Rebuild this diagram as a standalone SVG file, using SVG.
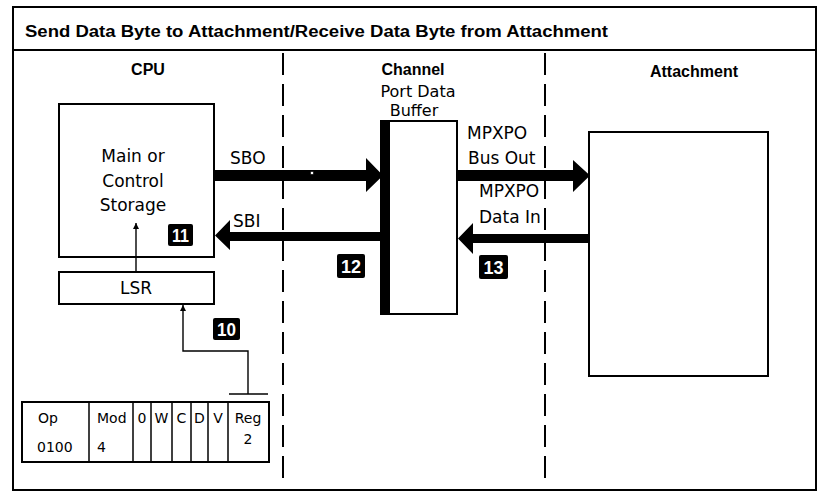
<svg xmlns="http://www.w3.org/2000/svg" width="824" height="495" viewBox="0 0 824 495">
<style>
.box{fill:#fff;stroke:#000;stroke-width:2}
.thin{fill:none;stroke:#000;stroke-width:1.4}
.dash{fill:none;stroke:#000;stroke-width:2;stroke-dasharray:22 9}
.hdr{font-family:"Liberation Sans",Arial,sans-serif;font-weight:bold;font-size:16px;fill:#000}
.lbl{font-family:"DejaVu Sans","Liberation Sans",sans-serif;font-size:17px;fill:#000}
.pb{font-family:"DejaVu Sans","Liberation Sans",sans-serif;font-size:16px;fill:#000}
.sm{font-family:"DejaVu Sans","Liberation Sans",sans-serif;font-size:14px;fill:#000}
.badge{fill:#000}
.btxt{font-family:"Liberation Sans",Arial,sans-serif;font-weight:bold;font-size:19px;fill:#fff;text-anchor:middle}
.mid{text-anchor:middle}
</style>
<defs>
<marker id="ah" viewBox="0 0 10 10" refX="10" refY="5" markerWidth="6" markerHeight="7" markerUnits="userSpaceOnUse" orient="auto">
<path d="M0,0 L10,5 L0,10 z" fill="#000"/>
</marker>
</defs>
<rect width="824" height="495" fill="#fff"/>

<g id="frame">
<rect x="13" y="7" width="803" height="483" fill="none" stroke="#000" stroke-width="2"/>
<line x1="13" y1="50" x2="816" y2="50" stroke="#000" stroke-width="2"/>
<text class="hdr" x="25" y="37" textLength="583" lengthAdjust="spacingAndGlyphs">Send Data Byte to Attachment/Receive Data Byte from Attachment</text>
<line class="dash" x1="283" y1="53" x2="283" y2="487"/>
<line class="dash" x1="545" y1="53" x2="545" y2="487"/>
<text class="hdr mid" x="148" y="75">CPU</text>
<text class="hdr mid" x="413" y="75">Channel</text>
<text class="hdr mid" x="694" y="77">Attachment</text>
</g>

<g id="storage">
<rect class="box" x="59" y="104" width="155" height="153"/>
<text class="lbl mid" x="133" y="162">Main or</text>
<text class="lbl mid" x="133" y="187">Control</text>
<text class="lbl mid" x="133" y="211">Storage</text>
</g>

<g id="lsr">
<rect class="box" x="59" y="272" width="155" height="32"/>
<text class="lbl mid" x="136" y="294">LSR</text>
</g>

<g id="buffer">
<text class="pb mid" x="418" y="97">Port Data</text>
<text class="pb mid" x="414" y="116">Buffer</text>
<rect class="box" x="389" y="121" width="68" height="193"/>
<rect x="380" y="120" width="10" height="195" fill="#000"/>
</g>

<g id="attachment">
<rect class="box" x="589" y="132" width="179" height="244" stroke-width="2.5"/>
</g>

<g id="register">
<rect class="box" x="22" y="402" width="247" height="60"/>
<g stroke="#000" stroke-width="1.5">
<line x1="89" y1="402" x2="89" y2="462"/>
<line x1="133" y1="402" x2="133" y2="462"/>
<line x1="151" y1="402" x2="151" y2="462"/>
<line x1="172" y1="402" x2="172" y2="462"/>
<line x1="191" y1="402" x2="191" y2="462"/>
<line x1="208" y1="402" x2="208" y2="462"/>
<line x1="228" y1="402" x2="228" y2="462"/>
</g>
<text class="sm" x="38" y="423">Op</text>
<text class="sm" x="37" y="452">0100</text>
<text class="sm" x="97" y="423">Mod</text>
<text class="sm" x="97" y="452">4</text>
<text class="sm mid" x="142" y="423">0</text>
<text class="sm mid" x="161.5" y="423">W</text>
<text class="sm mid" x="181.5" y="423">C</text>
<text class="sm mid" x="199.5" y="423">D</text>
<text class="sm mid" x="218" y="423">V</text>
<text class="sm mid" x="248" y="423">Reg</text>
<text class="sm mid" x="248" y="444">2</text>
</g>

<g id="labels">
<text class="lbl" x="230" y="164">SBO</text>
<text class="lbl" x="233" y="227">SBI</text>
<text class="lbl" x="467" y="139">MPXPO</text>
<text class="lbl" x="468" y="164">Bus Out</text>
<text class="lbl" x="479" y="197">MPXPO</text>
<text class="lbl" x="479" y="223">Data In</text>
</g>

<g id="badges">
<rect class="badge" x="168" y="224" width="25" height="22" rx="2"/>
<text class="btxt" x="180.5" y="242" textLength="17" lengthAdjust="spacingAndGlyphs">11</text>
<rect class="badge" x="337" y="254" width="28" height="24" rx="2"/>
<text class="btxt" x="351" y="273" textLength="20" lengthAdjust="spacingAndGlyphs">12</text>
<rect class="badge" x="479" y="255" width="29" height="24" rx="2"/>
<text class="btxt" x="493.5" y="274" textLength="20" lengthAdjust="spacingAndGlyphs">13</text>
<rect class="badge" x="213" y="318" width="27" height="22" rx="2"/>
<text class="btxt" x="226.5" y="336" textLength="19" lengthAdjust="spacingAndGlyphs">10</text>
</g>

<g id="connectors">
<path d="M214,170 H366 V158 L383,175.5 L366,192 V181 H214 Z" fill="#000"/>
<circle cx="312" cy="173" r="1.8" fill="#fff" stroke="#000" stroke-width="0.8"/>
<path d="M457,170 H573 V160 L590,175.5 L573,192 V181 H457 Z" fill="#000"/>
<path d="M380,232 H230 V220 L215,235.5 L230,250 V241 H380 Z" fill="#000"/>
<path d="M589,234 H473 V223 L458,238.5 L473,254 V243 H589 Z" fill="#000"/>
<line class="thin" x1="136" y1="272" x2="136" y2="223" marker-end="url(#ah)"/>
<line class="thin" x1="229" y1="394" x2="268" y2="394"/>
<polyline class="thin" points="248,394 248,351 183,351 183,305" marker-end="url(#ah)"/>
</g>
</svg>
